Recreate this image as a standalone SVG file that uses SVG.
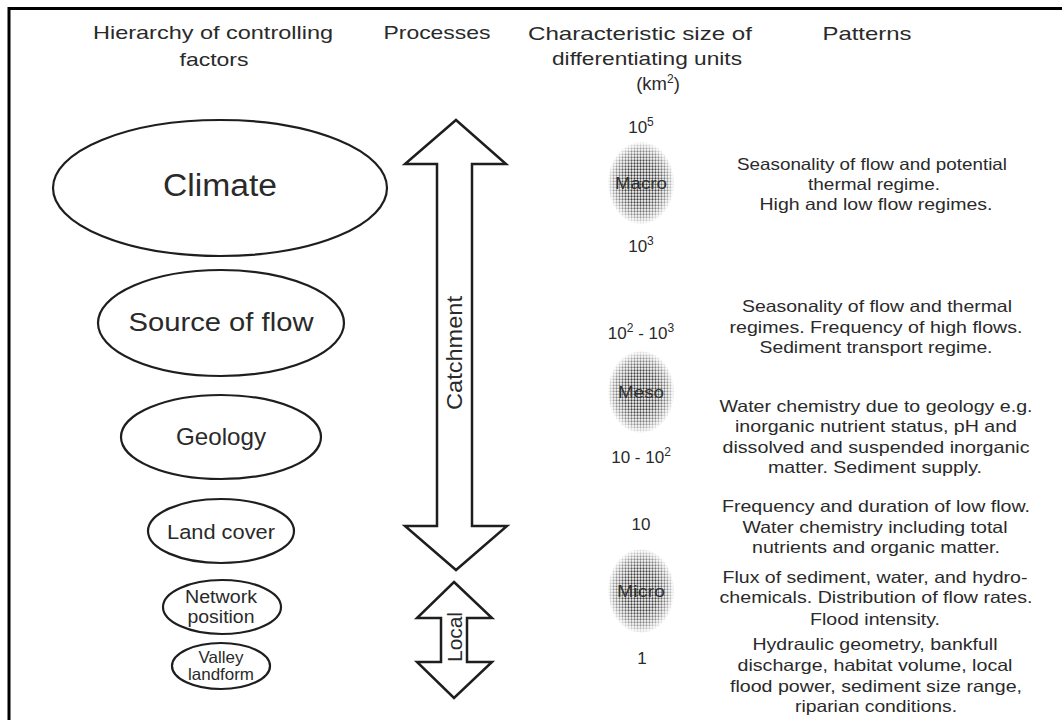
<svg xmlns="http://www.w3.org/2000/svg" width="1062" height="720" viewBox="0 0 1062 720">
<style>
text{font-family:"Liberation Sans",Arial,sans-serif;fill:#2a2a2a}
.hd{font-size:18.5px}
.el{fill:#fff;stroke:#1e1e1e;stroke-width:2.2}
.arr{fill:#fff;stroke:#1e1e1e;stroke-width:2.5;stroke-linejoin:miter}
.pt{font-size:16.5px}
.sz{font-size:17px}
.bl{font-size:16px;fill:#333}
</style>
<defs>
<pattern id="dots" patternUnits="userSpaceOnUse" width="3" height="3">
<circle cx="1.5" cy="1.5" r="1.15" fill="#2a2a2a"/>
</pattern>
<radialGradient id="fade" cx="0.5" cy="0.5" r="0.5">
<stop offset="0" stop-color="#fff" stop-opacity="0"/>
<stop offset="0.5" stop-color="#fff" stop-opacity="0.12"/>
<stop offset="0.8" stop-color="#fff" stop-opacity="0.5"/>
<stop offset="1" stop-color="#fff" stop-opacity="1"/>
</radialGradient>
</defs>
<rect width="1062" height="720" fill="#fff"/>
<g id="frame" stroke="#000" stroke-width="3" fill="none">
<line x1="8" y1="8.5" x2="1062" y2="8.5"/>
<line x1="9" y1="7" x2="9" y2="720"/>
</g>
<g id="headers" text-anchor="middle" class="hd">
<text x="213" y="39" textLength="240" lengthAdjust="spacingAndGlyphs">Hierarchy of controlling</text>
<text x="214" y="66" textLength="69" lengthAdjust="spacingAndGlyphs">factors</text>
<text x="437" y="39" textLength="107" lengthAdjust="spacingAndGlyphs">Processes</text>
<text x="640" y="40" textLength="224" lengthAdjust="spacingAndGlyphs">Characteristic size of</text>
<text x="647" y="65" textLength="190" lengthAdjust="spacingAndGlyphs">differentiating units</text>
<text x="658" y="90">(km<tspan dy="-7" font-size="12">2</tspan><tspan dy="7">)</tspan></text>
<text x="867" y="40" textLength="89" lengthAdjust="spacingAndGlyphs">Patterns</text>
</g>
<g id="climate">
<ellipse class="el" cx="220" cy="188" rx="167" ry="68"/>
<text x="220" y="196" text-anchor="middle" font-size="31" textLength="114" lengthAdjust="spacingAndGlyphs">Climate</text>
</g>
<g id="source-of-flow">
<ellipse class="el" cx="221" cy="323" rx="123" ry="53"/>
<text x="221" y="331" text-anchor="middle" font-size="26.5" textLength="185" lengthAdjust="spacingAndGlyphs">Source of flow</text>
</g>
<g id="geology">
<ellipse class="el" cx="221" cy="437" rx="100" ry="42"/>
<text x="221" y="445" text-anchor="middle" font-size="24" textLength="90" lengthAdjust="spacingAndGlyphs">Geology</text>
</g>
<g id="land-cover">
<ellipse class="el" cx="221" cy="531" rx="73" ry="32"/>
<text x="221" y="539" text-anchor="middle" font-size="20.5" textLength="108" lengthAdjust="spacingAndGlyphs">Land cover</text>
</g>
<g id="network-position">
<ellipse class="el" cx="222" cy="607" rx="59" ry="27"/>
<text x="221" y="603" text-anchor="middle" font-size="17.5" textLength="72" lengthAdjust="spacingAndGlyphs">Network</text>
<text x="221" y="623" text-anchor="middle" font-size="17.5" textLength="67" lengthAdjust="spacingAndGlyphs">position</text>
</g>
<g id="valley-landform">
<ellipse class="el" cx="221" cy="666" rx="49" ry="23"/>
<text x="221" y="663" text-anchor="middle" font-size="16.5" textLength="45" lengthAdjust="spacingAndGlyphs">Valley</text>
<text x="221" y="680" text-anchor="middle" font-size="16.5" textLength="66" lengthAdjust="spacingAndGlyphs">landform</text>
</g>
<g id="catchment-arrow">
<polygon class="arr" points="456,120 506,164 472,164 472,526 507,526 456,570 405,526 437,526 437,164 405,164"/>
<text transform="translate(462,353) rotate(-90)" text-anchor="middle" font-size="22" textLength="114" lengthAdjust="spacingAndGlyphs">Catchment</text>
</g>
<g id="local-arrow">
<polygon class="arr" points="454,582 492,618 467,618 467,662 492,662 454,698 417,662 441,662 441,618 417,618"/>
<text transform="translate(462,637) rotate(-90)" text-anchor="middle" font-size="20" textLength="50" lengthAdjust="spacingAndGlyphs">Local</text>
</g>
<g id="macro">
<ellipse cx="641" cy="183" rx="33" ry="41" fill="url(#dots)"/>
<ellipse cx="641" cy="183" rx="34" ry="42" fill="url(#fade)"/>
<text class="bl" x="641" y="189" text-anchor="middle" textLength="52" lengthAdjust="spacingAndGlyphs">Macro</text>
</g>
<g id="meso">
<ellipse cx="641" cy="392" rx="33" ry="41" fill="url(#dots)"/>
<ellipse cx="641" cy="392" rx="34" ry="42" fill="url(#fade)"/>
<text class="bl" x="641" y="398" text-anchor="middle" textLength="46" lengthAdjust="spacingAndGlyphs">Meso</text>
</g>
<g id="micro">
<ellipse cx="641" cy="591" rx="33" ry="42" fill="url(#dots)"/>
<ellipse cx="641" cy="591" rx="34" ry="43" fill="url(#fade)"/>
<text class="bl" x="641" y="597" text-anchor="middle" textLength="48" lengthAdjust="spacingAndGlyphs">Micro</text>
</g>
<g id="sizes" class="sz" text-anchor="middle">
<text x="641" y="133">10<tspan dy="-7" font-size="12">5</tspan></text>
<text x="641" y="252">10<tspan dy="-7" font-size="12">3</tspan></text>
<text x="641" y="339">10<tspan dy="-7" font-size="12">2</tspan><tspan dy="7"> - 10</tspan><tspan dy="-7" font-size="12">3</tspan></text>
<text x="641" y="463">10 - 10<tspan dy="-7" font-size="12">2</tspan></text>
<text x="641" y="530">10</text>
<text x="642" y="664">1</text>
</g>
<g id="patterns" class="pt" text-anchor="middle">
<text x="872" y="170" textLength="270" lengthAdjust="spacingAndGlyphs">Seasonality of flow and potential</text>
<text x="874" y="190" textLength="132" lengthAdjust="spacingAndGlyphs">thermal regime.</text>
<text x="876" y="210" textLength="233" lengthAdjust="spacingAndGlyphs">High and low flow regimes.</text>
<text x="877" y="312" textLength="270" lengthAdjust="spacingAndGlyphs">Seasonality of flow and thermal</text>
<text x="876" y="333" textLength="293" lengthAdjust="spacingAndGlyphs">regimes. Frequency of high flows.</text>
<text x="876" y="353" textLength="233" lengthAdjust="spacingAndGlyphs">Sediment transport regime.</text>
<text x="876" y="412" textLength="313" lengthAdjust="spacingAndGlyphs">Water chemistry due to geology e.g.</text>
<text x="876" y="432" textLength="282" lengthAdjust="spacingAndGlyphs">inorganic nutrient status, pH and</text>
<text x="876" y="453" textLength="307" lengthAdjust="spacingAndGlyphs">dissolved and suspended inorganic</text>
<text x="875" y="473" textLength="214" lengthAdjust="spacingAndGlyphs">matter. Sediment supply.</text>
<text x="876" y="512" textLength="308" lengthAdjust="spacingAndGlyphs">Frequency and duration of low flow.</text>
<text x="875" y="533" textLength="265" lengthAdjust="spacingAndGlyphs">Water chemistry including total</text>
<text x="876" y="553" textLength="248" lengthAdjust="spacingAndGlyphs">nutrients and organic matter.</text>
<text x="875" y="583" textLength="305" lengthAdjust="spacingAndGlyphs">Flux of sediment, water, and hydro-</text>
<text x="876" y="603" textLength="313" lengthAdjust="spacingAndGlyphs">chemicals. Distribution of flow rates.</text>
<text x="875" y="625" textLength="130" lengthAdjust="spacingAndGlyphs">Flood intensity.</text>
<text x="875" y="650" textLength="245" lengthAdjust="spacingAndGlyphs">Hydraulic geometry, bankfull</text>
<text x="875" y="671" textLength="275" lengthAdjust="spacingAndGlyphs">discharge, habitat volume, local</text>
<text x="876" y="692" textLength="292" lengthAdjust="spacingAndGlyphs">flood power, sediment size range,</text>
<text x="876" y="712" textLength="162" lengthAdjust="spacingAndGlyphs">riparian conditions.</text>
</g>
</svg>
